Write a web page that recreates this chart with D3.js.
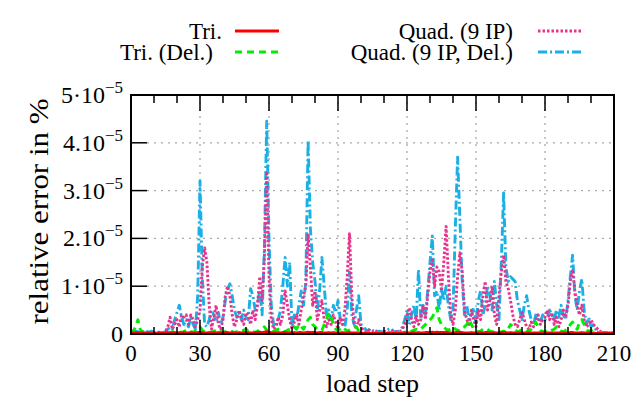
<!DOCTYPE html>
<html>
<head>
<meta charset="utf-8">
<script src="https://cdn.jsdelivr.net/npm/d3@7"></script>
<style>
  body { margin: 0; background: #fff; }
  svg text { font-family: "Liberation Serif", "Times New Roman", serif; fill: #000; }
</style>
</head>
<body>
<svg id="chart" width="641" height="398"></svg>
<script>
// relative error in units of 1e-5 %, one value per load step 0..210
const quadDel = [
  0.08,0.05,0.06,0.04,0.05,0.06,0.03,0.05,0.04,0.06,
  0.03,0.02,0.04,0.05,0.03,0.05,0.1,0.15,0.1,0.3,
  0.45,0.6,0.35,0.2,0.3,0.15,0.35,0.2,0.1,0.8,
  3.2,1.2,0.2,0.15,0.3,0.5,0.4,0.25,0.45,0.2,
  0.35,0.7,0.95,1.05,0.8,0.5,0.35,0.45,0.3,0.5,
  0.35,0.3,0.95,0.8,0.5,0.65,0.9,0.4,1.8,4.45,
  2.0,0.6,0.2,0.15,0.3,0.5,1.0,1.6,1.0,1.5,
  0.15,0.4,0.3,0.6,0.9,0.6,1.1,4.05,2.2,1.5,
  1.1,0.5,0.9,1.6,1.0,0.4,0.5,0.3,0.6,0.45,
  0.7,0.3,0.2,0.15,0.5,1.3,0.4,0.2,0.5,0.8,
  0.2,0.15,0.1,0.05,0.12,0.08,0.05,0.04,0.06,0.05,
  0.04,0.06,0.1,0.12,0.06,0.04,0.05,0.08,0.15,0.3,
  0.5,0.2,0.4,0.6,0.3,1.35,0.3,0.6,0.4,0.9,
  1.5,2.05,0.8,0.9,0.5,0.95,0.7,1.0,0.6,0.3,
  0.5,2.2,3.7,2.4,1.1,0.4,0.6,0.3,0.4,0.55,
  0.2,0.7,0.9,0.4,0.6,1.0,0.8,0.5,1.1,0.6,
  0.3,1.5,2.95,1.4,1.1,1.2,1.15,1.1,0.7,0.5,
  0.3,0.6,0.8,0.5,0.3,0.2,0.4,0.3,0.25,0.4,
  0.3,0.35,0.5,0.4,0.3,0.5,0.35,0.6,0.4,0.3,
  0.7,1.2,1.65,0.8,0.5,0.9,1.15,0.5,0.2,0.35,
  0.15,0.2,0.1,0.08,0.05,0.03,0.03,0.03,0.03,0.03,
  0.03
];
const quad = [
  0.02,0.03,0.02,0.02,0.03,0.02,0.02,0.03,0.02,0.02,
  0.02,0.03,0.02,0.02,0.03,0.05,0.15,0.35,0.1,0.2,
  0.3,0.15,0.4,0.35,0.4,0.2,0.4,0.3,0.15,0.3,
  0.5,1.4,1.8,1.5,0.6,0.1,0.35,0.6,0.2,0.1,
  0.3,0.8,1.0,0.8,0.4,0.15,0.3,0.5,0.3,0.2,
  0.45,0.4,0.2,0.5,0.3,0.6,1.2,0.7,1.6,3.4,
  1.2,0.3,0.1,0.15,0.35,0.2,0.4,0.9,0.6,0.3,
  0.1,0.25,0.4,0.2,0.5,0.8,1.0,2.1,1.4,0.6,
  0.9,0.3,0.5,0.7,0.3,0.15,0.3,0.2,0.4,0.25,
  0.1,0.35,0.2,0.5,1.2,2.1,0.8,0.2,0.1,0.3,
  0.15,0.08,0.05,0.1,0.06,0.04,0.08,0.05,0.03,0.04,
  0.06,0.04,0.03,0.08,0.05,0.04,0.06,0.05,0.1,0.2,
  0.4,0.55,0.3,0.15,0.4,0.2,0.3,0.6,0.3,0.8,
  1.3,1.55,1.0,1.4,1.3,0.9,1.5,2.25,1.2,0.4,
  0.2,0.5,1.2,1.7,1.3,0.5,0.3,0.2,0.5,0.3,
  0.15,0.5,0.3,0.8,1.1,0.5,0.7,1.0,0.4,0.2,
  0.8,1.3,1.65,1.1,0.95,0.7,0.4,0.2,0.15,0.3,
  0.45,0.3,0.15,0.1,0.25,0.15,0.3,0.4,0.2,0.3,
  0.35,0.5,0.3,0.45,0.2,0.35,0.15,0.3,0.5,0.35,
  0.6,1.1,1.35,0.9,0.6,0.4,0.6,0.3,0.15,0.2,
  0.3,0.2,0.15,0.1,0.05,0.03,0.02,0.02,0.02,0.02,
  0.02
];
const triDel = [
  0.02,0.05,0.15,0.3,0.1,0.03,0.1,0.04,0.02,0.03,
  0.02,0.05,0.03,0.02,0.03,0.02,0.04,0.03,0.05,0.03,
  0.04,0.06,0.03,0.05,0.08,0.1,0.05,0.04,0.06,0.1,
  0.15,0.08,0.05,0.04,0.05,0.03,0.06,0.08,0.1,0.05,
  0.03,0.05,0.04,0.06,0.05,0.03,0.05,0.04,0.06,0.08,
  0.1,0.06,0.04,0.05,0.03,0.06,0.08,0.1,0.15,0.08,
  0.05,0.04,0.06,0.08,0.1,0.1,0.06,0.05,0.08,0.1,
  0.12,0.15,0.1,0.2,0.15,0.1,0.2,0.3,0.35,0.2,
  0.15,0.1,0.1,0.08,0.2,0.3,0.45,0.35,0.2,0.1,
  0.08,0.1,0.15,0.1,0.06,0.08,0.1,0.12,0.15,0.06,
  0.04,0.03,0.02,0.03,0.02,0.02,0.03,0.02,0.02,0.03,
  0.02,0.02,0.03,0.02,0.02,0.03,0.02,0.02,0.03,0.04,
  0.05,0.04,0.06,0.08,0.1,0.08,0.1,0.15,0.2,0.25,
  0.3,0.35,0.45,0.55,0.3,0.2,0.15,0.1,0.08,0.1,
  0.15,0.1,0.08,0.06,0.1,0.15,0.2,0.3,0.2,0.1,
  0.08,0.05,0.06,0.1,0.08,0.1,0.06,0.05,0.04,0.06,
  0.05,0.04,0.06,0.05,0.1,0.2,0.15,0.08,0.05,0.06,
  0.1,0.08,0.05,0.06,0.1,0.2,0.25,0.15,0.08,0.05,
  0.06,0.04,0.05,0.08,0.1,0.15,0.1,0.06,0.05,0.08,
  0.1,0.2,0.25,0.15,0.1,0.25,0.3,0.2,0.1,0.05,
  0.08,0.1,0.06,0.04,0.03,0.02,0.02,0.02,0.02,0.02,
  0.02
];
const tri = [
  0.01,0.02,0.02,0.03,0.02,0.02,0.01,0.02,0.02,0.01,
  0.02,0.01,0.02,0.02,0.01,0.02,0.03,0.02,0.02,0.03,
  0.02,0.03,0.02,0.03,0.02,0.02,0.03,0.02,0.02,0.03,
  0.04,0.03,0.02,0.02,0.03,0.02,0.03,0.02,0.03,0.02,
  0.02,0.03,0.03,0.02,0.03,0.02,0.02,0.03,0.02,0.03,
  0.02,0.03,0.02,0.02,0.03,0.03,0.04,0.03,0.04,0.05,
  0.04,0.03,0.02,0.02,0.03,0.02,0.03,0.03,0.02,0.03,
  0.02,0.03,0.02,0.03,0.03,0.02,0.03,0.04,0.03,0.03,
  0.03,0.02,0.03,0.03,0.02,0.02,0.03,0.02,0.03,0.02,
  0.02,0.02,0.03,0.02,0.02,0.03,0.02,0.02,0.02,0.02,
  0.02,0.01,0.01,0.01,0.01,0.01,0.01,0.01,0.01,0.01,
  0.01,0.01,0.01,0.01,0.01,0.01,0.01,0.01,0.01,0.02,
  0.02,0.02,0.02,0.03,0.02,0.03,0.02,0.02,0.03,0.03,
  0.03,0.04,0.03,0.04,0.03,0.03,0.03,0.04,0.03,0.02,
  0.02,0.03,0.04,0.03,0.03,0.02,0.02,0.02,0.03,0.02,
  0.02,0.02,0.03,0.02,0.03,0.03,0.02,0.02,0.03,0.02,
  0.02,0.03,0.03,0.03,0.02,0.03,0.02,0.02,0.02,0.02,
  0.02,0.02,0.02,0.02,0.02,0.02,0.02,0.02,0.02,0.02,
  0.02,0.02,0.02,0.02,0.02,0.02,0.02,0.02,0.02,0.02,
  0.02,0.03,0.03,0.02,0.02,0.02,0.03,0.02,0.02,0.02,
  0.02,0.02,0.01,0.01,0.01,0.01,0.01,0.01,0.01,0.01,
  0.01
];

const xTicks = [0, 30, 60, 90, 120, 150, 180, 210];
const yTicks = [0, 1, 2, 3, 4, 5];
const yTickMantissa = ['0', '1·10', '2.10', '3.10', '4.10', '5·10'];

const series = [
  { name: 'Quad. (9 IP, Del.)', values: quadDel, color: '#1ab0e6', dash: '9,3,2,3' },
  { name: 'Quad. (9 IP)', values: quad, color: '#e8338c', dash: '2.5,2' },
  { name: 'Tri. (Del.)', values: triDel, color: '#00ee00', dash: '7,5' },
  { name: 'Tri.', values: tri, color: '#ff0000', dash: null }
];

const svg = d3.select('#chart');
const margin = { left: 131, right: 27, top: 95, bottom: 64 };
const W = 641 - margin.left - margin.right;
const H = 398 - margin.top - margin.bottom;

const x = d3.scaleLinear().domain([0, 210]).range([0, W]);
const y = d3.scaleLinear().domain([0, 5]).range([H, 0]);

const g = svg.append('g').attr('transform', `translate(${margin.left},${margin.top})`);

// grid
g.append('g').selectAll('line.vg')
  .data(xTicks.filter(d => d > 0 && d < 210))
  .enter().append('line')
  .attr('x1', d => x(d)).attr('x2', d => x(d))
  .attr('y1', 0).attr('y2', H)
  .attr('stroke', '#aaa').attr('stroke-width', 1.3).attr('stroke-dasharray', '2,5');
g.append('g').selectAll('line.hg')
  .data(yTicks.filter(d => d > 0 && d < 5))
  .enter().append('line')
  .attr('x1', 16).attr('x2', W)
  .attr('y1', d => y(d)).attr('y2', d => y(d))
  .attr('stroke', '#aaa').attr('stroke-width', 1.3).attr('stroke-dasharray', '2,5');

// series
const line = d3.line().x((d, i) => x(i)).y(d => y(d));
series.forEach(s => {
  g.append('path')
    .datum(s.values)
    .attr('d', line)
    .attr('fill', 'none')
    .attr('stroke', s.color)
    .attr('stroke-width', 2.9)
    .attr('stroke-linejoin', 'round')
    .attr('stroke-dasharray', s.dash);
});

// ticks (inward), major every 30, minor every 10
const minor = d3.range(0, 211, 10).filter(d => d % 30 !== 0);
const tickG = g.append('g').attr('stroke', '#000').attr('stroke-width', 1.5);
xTicks.forEach(d => {
  tickG.append('line').attr('x1', x(d)).attr('x2', x(d)).attr('y1', H).attr('y2', H - 14);
  tickG.append('line').attr('x1', x(d)).attr('x2', x(d)).attr('y1', 0).attr('y2', 16);
});
minor.forEach(d => {
  tickG.append('line').attr('x1', x(d)).attr('x2', x(d)).attr('y1', H).attr('y2', H - 7);
  tickG.append('line').attr('x1', x(d)).attr('x2', x(d)).attr('y1', 0).attr('y2', 8);
});
yTicks.forEach(d => {
  tickG.append('line').attr('x1', 0).attr('x2', 16).attr('y1', y(d)).attr('y2', y(d));
});

// border
g.append('rect').attr('width', W).attr('height', H)
  .attr('fill', 'none').attr('stroke', '#000').attr('stroke-width', 2);

// x tick labels
g.append('g').selectAll('text')
  .data(xTicks)
  .enter().append('text')
  .attr('x', d => x(d)).attr('y', H + 27)
  .attr('text-anchor', 'middle')
  .attr('font-size', 23)
  .text(d => d);

// y tick labels with exponent
yTicks.forEach((d, i) => {
  const t = g.append('text')
    .attr('x', -8).attr('y', y(d) + 8)
    .attr('text-anchor', 'end')
    .attr('font-size', 24);
  t.append('tspan').text(yTickMantissa[i]);
  if (d > 0) {
    t.append('tspan').attr('dy', -10).attr('font-size', 17).text('−5');
  }
});

// axis labels
svg.append('text')
  .attr('x', margin.left + W / 2).attr('y', 392)
  .attr('text-anchor', 'middle').attr('font-size', 26)
  .text('load step');
svg.append('text')
  .attr('transform', `translate(48,${margin.top + H / 2 - 3}) rotate(-90)`)
  .attr('text-anchor', 'middle').attr('font-size', 27)
  .attr('textLength', 226).attr('lengthAdjust', 'spacingAndGlyphs')
  .text('relative error in %');

// legend
const legend = [
  { name: 'Tri.', color: '#ff0000', dash: null, tx: 222, lx: 235, ly: 31 },
  { name: 'Tri. (Del.)', color: '#00ee00', dash: '7,5', tx: 213, lx: 235, ly: 52 },
  { name: 'Quad. (9 IP)', color: '#e8338c', dash: '2.5,2', tx: 513, lx: 538, ly: 31 },
  { name: 'Quad. (9 IP, Del.)', color: '#1ab0e6', dash: '9,3,2,3', tx: 513, lx: 538, ly: 52 }
];
legend.forEach(l => {
  svg.append('text')
    .attr('x', l.tx).attr('y', l.ly + 8)
    .attr('text-anchor', 'end').attr('font-size', 23)
    .text(l.name);
  svg.append('line')
    .attr('x1', l.lx).attr('x2', l.lx + 44)
    .attr('y1', l.ly).attr('y2', l.ly)
    .attr('stroke', l.color).attr('stroke-width', 2.9)
    .attr('stroke-dasharray', l.dash);
});
</script>
</body>
</html>
